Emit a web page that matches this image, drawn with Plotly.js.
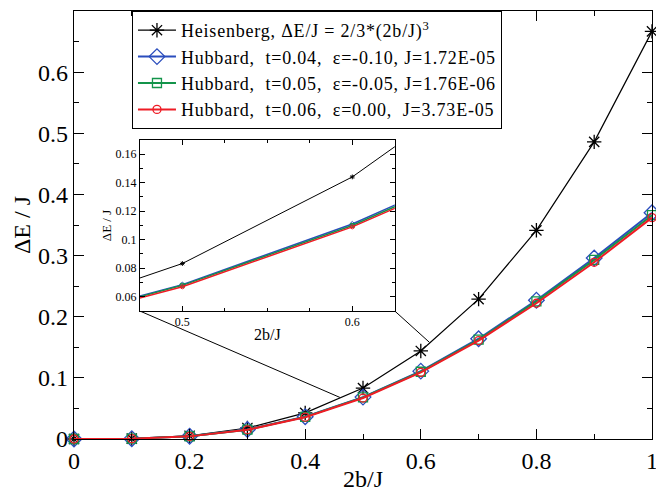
<!DOCTYPE html>
<html>
<head>
<meta charset="utf-8">
<script src="https://cdn.plot.ly/plotly-3.0.1.min.js"></script>
<style>
html,body{margin:0;padding:0;background:#fff;}
#chart{width:656px;height:492px;}
.legendtext{letter-spacing:0.8px;}
</style>
</head>
<body>
<div id="chart"></div>
<script>
// Data
const xVals = [0, 0.1, 0.2, 0.3, 0.4, 0.5, 0.6, 0.7, 0.8, 0.9, 1.0];
const heisenberg = [0, 0.00067, 0.00533, 0.018, 0.0427, 0.0833, 0.144, 0.2287, 0.3413, 0.486, 0.6667];
const hubbardT004 = [0, 0.00055, 0.0045, 0.0155, 0.0365, 0.0685, 0.111, 0.164, 0.227, 0.296, 0.370];
const hubbardT005 = [0, 0.00055, 0.0044, 0.0153, 0.0362, 0.068, 0.110, 0.1625, 0.225, 0.293, 0.366];
const hubbardT006 = [0, 0.00054, 0.0043, 0.015, 0.0357, 0.067, 0.109, 0.161, 0.222, 0.289, 0.362];
const seriesNames = [
  "Heisenberg, \u0394E/J = 2/3*(2b/J)<sup>3</sup>",
  "Hubbard,\u00a0 t=0.04,\u00a0 \u03b5=-0.10, J=1.72E-05",
  "Hubbard,\u00a0 t=0.05,\u00a0 \u03b5=-0.05, J=1.76E-06",
  "Hubbard,\u00a0 t=0.06,\u00a0 \u03b5=0.00,\u00a0 J=3.73E-05"
];
// zoom-line targets on the main curve
const zoomTargetsX = [0.46, 0.615];
const zoomTargetsY = [0.068, 0.158];

const FONT = "Liberation Serif";
const colors = ["#000000", "#2a4dbd", "#13944a", "#ee1c25"];
const symbols = ["asterisk-open", "diamond-open", "square-open", "circle-open"];
const sizes = [12, 12, 9, 8];
const widths = [1.2, 2, 2, 2];
const ys = [heisenberg, hubbardT004, hubbardT005, hubbardT006];

const traces = [];
ys.forEach((y, i) => {
  traces.push({
    x: xVals, y: y, type: "scatter", mode: "lines+markers", name: seriesNames[i],
    line: {color: colors[i], width: widths[i]},
    marker: {symbol: symbols[i], size: sizes[i], color: colors[i], line: {color: colors[i], width: 1.3}},
    xaxis: "x", yaxis: "y", cliponaxis: false
  });
});
ys.forEach((y, i) => {
  traces.push({
    x: xVals, y: y, type: "scatter", mode: "lines+markers", showlegend: false,
    line: {color: colors[i], width: i === 0 ? 1 : 1.5},
    marker: {symbol: i === 0 ? "asterisk-open" : symbols[i], size: 4, color: colors[i], line: {color: colors[i], width: 1}},
    xaxis: "x2", yaxis: "y2"
  });
});

const xRange = [0, 1.00001], yRange = [0, 0.7];
const insetX = [0.114, 0.555], insetY = [0.299, 0.699];
const toMainX = p => xRange[0] + p * (xRange[1] - xRange[0]);
const toMainY = p => yRange[0] + p * (yRange[1] - yRange[0]);

const layout = {
  width: 656, height: 492,
  margin: {l: 74, r: 4, t: 11, b: 53},
  paper_bgcolor: "#fff", plot_bgcolor: "#fff",
  font: {family: FONT, color: "#000"},
  showlegend: true,
  legend: {
    x: 0.1003, y: 1, xanchor: "left", yanchor: "top",
    bgcolor: "#fff", bordercolor: "#000", borderwidth: 1,
    font: {family: FONT, size: 18, color: "#000"},
    itemwidth: 38, tracegroupgap: 0
  },
  xaxis: {
    range: xRange, dtick: 0.2, tick0: 0, ticks: "inside", ticklen: 10, tickwidth: 1, tickcolor: "#000",
    showline: true, linecolor: "#000", linewidth: 1.2, mirror: "allticks", showgrid: false, zeroline: false,
    ticklabeloverflow: "allow",
    tickfont: {family: FONT, size: 24, color: "#000"}, minor: {dtick: 0.1, ticks: "inside", ticklen: 5, tickcolor: "#000", showgrid: false},
    title: {text: "2b/J", font: {family: FONT, size: 24, color: "#000"}, standoff: 4}
  },
  yaxis: {
    range: yRange, dtick: 0.1, tick0: 0, ticks: "inside", ticklen: 10, tickwidth: 1, tickcolor: "#000",
    showline: true, linecolor: "#000", linewidth: 1.2, mirror: "allticks", showgrid: false, zeroline: false,
    tickfont: {family: FONT, size: 24, color: "#000"}, minor: {dtick: 0.05, ticks: "inside", ticklen: 5, tickcolor: "#000", showgrid: false},
    title: {text: "\u0394E / J", font: {family: FONT, size: 24, color: "#000"}, standoff: 0}
  },
  xaxis2: {
    domain: insetX, anchor: "y2", range: [0.475, 0.625], dtick: 0.1, tick0: 0,
    ticks: "inside", ticklen: 5, tickcolor: "#000", showline: true, linecolor: "#000", linewidth: 1, mirror: "allticks",
    showgrid: false, zeroline: false, tickfont: {family: FONT, size: 12, color: "#000"},
    minor: {dtick: 0.025, ticks: "inside", ticklen: 3, tickcolor: "#000", showgrid: false},
    title: {text: "2b/J", font: {family: FONT, size: 16, color: "#000"}, standoff: 0}
  },
  yaxis2: {
    domain: insetY, anchor: "x2", range: [0.05, 0.17], dtick: 0.02, tick0: 0,
    ticks: "inside", ticklen: 5, tickcolor: "#000", showline: true, linecolor: "#000", linewidth: 1, mirror: "allticks",
    showgrid: false, zeroline: false, tickfont: {family: FONT, size: 12, color: "#000"},
    minor: {dtick: 0.01, ticks: "inside", ticklen: 3, tickcolor: "#000", showgrid: false},
    title: {text: "\u0394E / J", font: {family: FONT, size: 13, color: "#000"}, standoff: 0}
  },
  shapes: [
    {type: "line", xref: "x", yref: "y", x0: toMainX(insetX[0]), y0: toMainY(insetY[0]), x1: zoomTargetsX[0], y1: zoomTargetsY[0], line: {color: "#000", width: 1}, layer: "below"},
    {type: "line", xref: "x", yref: "y", x0: toMainX(insetX[1]), y0: toMainY(insetY[0]), x1: zoomTargetsX[1], y1: zoomTargetsY[1], line: {color: "#000", width: 1}, layer: "below"}
  ]
};

Plotly.newPlot("chart", traces, layout, {displayModeBar: false, staticPlot: true});
</script>
</body>
</html>
